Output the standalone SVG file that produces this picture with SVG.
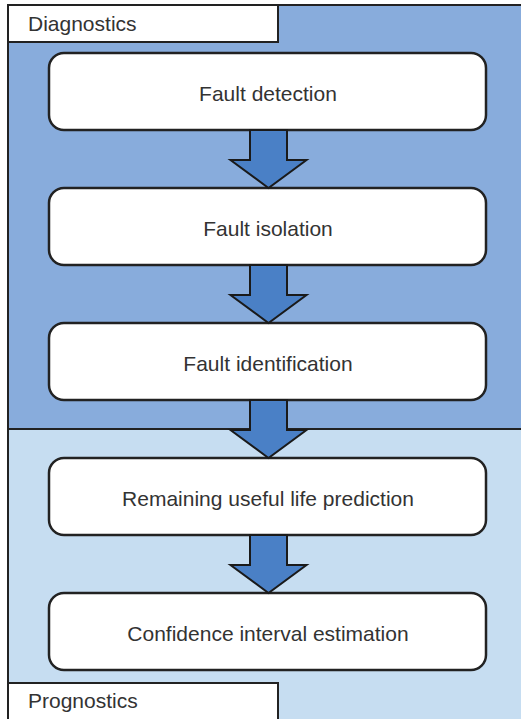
<svg xmlns="http://www.w3.org/2000/svg" width="521" height="719" viewBox="0 0 521 719">
  <defs>
    <style>
      .panel-diag { fill: #88acdc; stroke: #222; stroke-width: 2; }
      .panel-prog { fill: #c6ddf1; stroke: #222; stroke-width: 2; }
      .tab { fill: #ffffff; stroke: #222; stroke-width: 2; }
      .tab-text { font-family: "Liberation Sans", Arial, sans-serif; font-size: 21px; fill: #333; }
      .box { fill: #ffffff; stroke: #222; stroke-width: 2.5; }
      .box-text { font-family: "Liberation Sans", Arial, sans-serif; font-size: 21px; fill: #333; text-anchor: middle; }
      .arrow { fill: #4a80c6; stroke: #1a1a1a; stroke-width: 2; stroke-linejoin: miter; }
    </style>
    <!-- block arrow: shaft 37 wide, head 76 wide, 58 tall overall -->
    <path id="blockArrow" d="M -18.5 0 L 18.5 0 L 18.5 30 L 38 30 L 0 58 L -38 30 L -18.5 30 Z"/>
  </defs>

  <!-- section panels -->
  <g id="diagnostics-panel">
    <rect class="panel-diag" x="8" y="5" width="520" height="424"/>
    <rect class="tab" x="8" y="5" width="270" height="37"/>
    <text class="tab-text" x="28" y="31">Diagnostics</text>
  </g>
  <g id="prognostics-panel">
    <rect class="panel-prog" x="8" y="429" width="520" height="300"/>
    <rect class="tab" x="8" y="683" width="270" height="50"/>
    <text class="tab-text" x="28" y="708">Prognostics</text>
  </g>

  <!-- process steps -->
  <g id="fault-detection">
    <rect class="box" x="49" y="53" width="437" height="77" rx="15"/>
    <text class="box-text" x="268" y="101">Fault detection</text>
  </g>
  <g id="fault-isolation">
    <rect class="box" x="49" y="188" width="437" height="77" rx="15"/>
    <text class="box-text" x="268" y="236">Fault isolation</text>
  </g>
  <g id="fault-identification">
    <rect class="box" x="49" y="323" width="437" height="77" rx="15"/>
    <text class="box-text" x="268" y="371">Fault identification</text>
  </g>
  <g id="rul-prediction">
    <rect class="box" x="49" y="458" width="437" height="77" rx="15"/>
    <text class="box-text" x="268" y="506">Remaining useful life prediction</text>
  </g>
  <g id="confidence-interval">
    <rect class="box" x="49" y="593" width="437" height="77" rx="15"/>
    <text class="box-text" x="268" y="641">Confidence interval estimation</text>
  </g>

  <!-- connectors -->
  <g id="connectors">
    <use href="#blockArrow" class="arrow" x="268.5" y="130"/>
    <use href="#blockArrow" class="arrow" x="268.5" y="265"/>
    <use href="#blockArrow" class="arrow" x="268.5" y="400"/>
    <use href="#blockArrow" class="arrow" x="268.5" y="535"/>
  </g>
</svg>
